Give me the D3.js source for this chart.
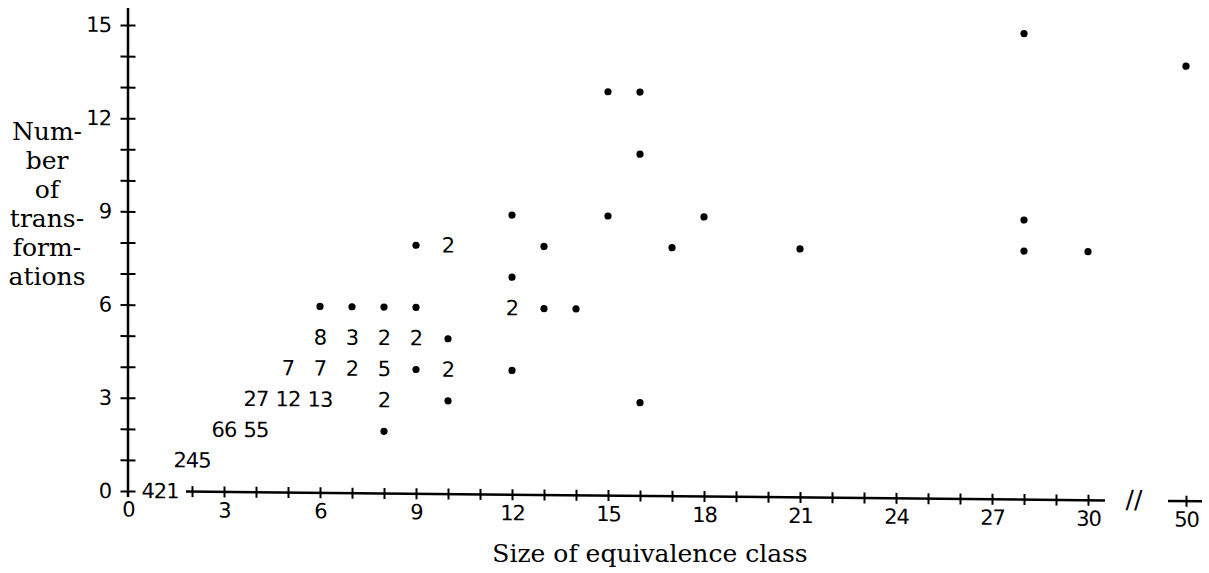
<!DOCTYPE html>
<html>
<head>
<meta charset="utf-8">
<script src="https://cdn.jsdelivr.net/npm/d3@7"></script>
<style>
  body { margin: 0; background: #fff; }
  svg { display: block; }
  .num { font-family: "DejaVu Sans", Verdana, sans-serif; font-size: 21px; fill: #000; letter-spacing: -1px; }
  .ttl { font-family: "DejaVu Serif", "Liberation Serif", serif; font-size: 25px; fill: #000; }
</style>
</head>
<body>
<div id="chart"></div>
<script>
// CONSTANTS
const width = 1209;
const height = 573;
const skewDeg = 0.55; // the scanned x axis drops slightly towards the right

// data: one entry per (size, transformations) cell, count 1 is drawn as a dot
const classSize = [1, 2, 3, 4, 4, 5, 6, 5, 6, 7, 8, 9, 10, 6, 7, 8, 9, 10,
  6, 7, 8, 9, 8, 8, 10, 9, 10, 12, 12, 12, 12, 13, 13, 14, 15, 15, 16, 16, 16,
  17, 18, 21, 28, 28, 28, 30, 50];
const numTransforms = [0, 1, 2, 2, 3, 3, 3, 4, 4, 4, 4, 4, 4, 5, 5, 5, 5, 5,
  6, 6, 6, 6, 3, 2, 3, 8, 8, 9, 7, 6, 4, 8, 6, 6, 13, 9, 13, 11, 3,
  8, 9, 8, 15, 9, 8, 8, 14];
const counts = [421, 245, 66, 55, 27, 12, 13, 7, 7, 2, 5, 1, 2, 8, 3, 2, 2, 1,
  1, 1, 1, 1, 2, 1, 1, 1, 2, 1, 1, 2, 1, 1, 1, 1, 1, 1, 1, 1, 1,
  1, 1, 1, 1, 1, 1, 1, 1];

const xTickLabels = [0, 3, 6, 9, 12, 15, 18, 21, 24, 27, 30, 50];
const xMinorTicks = d3.range(2, 31);
const yTickLabels = [0, 3, 6, 9, 12, 15];
const yMinorTicks = d3.range(0, 16);
const yTitle = ["Num-", "ber", "of", "trans-", "form-", "ations"];
const xTitle = "Size of equivalence class";

const cells = classSize.map((s, i) => ({ x: s, y: numTransforms[i], n: counts[i] }));

// broken x scale: 0..30 linear, then 50 after the break
const x = d3.scaleLinear().domain([0, 30, 50]).range([128, 1088, 1186]);
const y = d3.scaleLinear().domain([0, 15]).range([491, 25]);

const svg = d3.select("#chart").append("svg")
  .attr("width", width)
  .attr("height", height);

const g = svg.append("g")
  .attr("transform", `translate(${x(0)},0) skewY(${skewDeg}) translate(${-x(0)},0)`);

// y axis: cross ticks on every integer, labels every 3
const yMinor = g.append("g")
  .attr("transform", `translate(${x(0)},0)`)
  .call(d3.axisLeft(y).tickValues(yMinorTicks).tickFormat("").tickSizeOuter(0));
yMinor.select(".domain").remove();
yMinor.selectAll(".tick line").attr("x1", 7.5).attr("x2", -7.5)
  .attr("stroke", "#000").attr("stroke-width", 2);

const yLab = g.append("g")
  .attr("transform", `translate(${x(0) - 17},0)`)
  .call(d3.axisLeft(y).tickValues(yTickLabels).tickSize(0).tickPadding(0));
yLab.select(".domain").remove();
yLab.selectAll("text").attr("class", "num").attr("font-size", null).attr("font-family", null);

g.append("line")
  .attr("x1", x(0)).attr("x2", x(0))
  .attr("y1", y(15) - 17).attr("y2", y(0) + 6)
  .attr("stroke", "#000").attr("stroke-width", 2.5);

// x axis: line from 2 to just past 30, then a break and a stub at 50
g.append("line")
  .attr("x1", x(2) - 6).attr("x2", x(30) + 17)
  .attr("y1", y(0)).attr("y2", y(0))
  .attr("stroke", "#000").attr("stroke-width", 2.5);
g.append("line")
  .attr("x1", x(50) - 18).attr("x2", x(50) + 16)
  .attr("y1", y(0)).attr("y2", y(0))
  .attr("stroke", "#000").attr("stroke-width", 2.5);

const xMinor = g.append("g")
  .attr("transform", `translate(0,${y(0)})`)
  .call(d3.axisBottom(x).tickValues(xMinorTicks.concat([50])).tickFormat("").tickSizeOuter(0));
xMinor.select(".domain").remove();
xMinor.selectAll(".tick line").attr("y1", -5.5).attr("y2", 5.5)
  .attr("stroke", "#000").attr("stroke-width", 2);

const xLab = g.append("g")
  .attr("transform", `translate(0,${y(0) + 18})`)
  .call(d3.axisBottom(x).tickValues(xTickLabels).tickSize(0).tickPadding(0));
xLab.select(".domain").remove();
xLab.selectAll("text").attr("class", "num").attr("font-size", null).attr("font-family", null)
  .attr("dy", "0.36em").attr("y", 0);

// axis break mark
g.append("text")
  .attr("class", "num")
  .attr("x", (x(30) + x(50)) / 2 - 3)
  .attr("y", y(0) - 1)
  .attr("text-anchor", "middle")
  .attr("dominant-baseline", "central")
  .style("font-size", "25px")
  .style("letter-spacing", "0px")
  .text("//");

// cells: dots for single classes, counts otherwise
g.selectAll(".dot")
  .data(cells.filter((d) => d.n === 1))
  .enter()
  .append("circle")
  .attr("class", "dot")
  .attr("cx", (d) => x(d.x))
  .attr("cy", (d) => y(d.y))
  .attr("r", 3.6)
  .attr("fill", "#000");

g.selectAll(".count")
  .data(cells.filter((d) => d.n > 1))
  .enter()
  .append("text")
  .attr("class", "num count")
  .attr("x", (d) => x(d.x))
  .attr("y", (d) => y(d.y))
  .attr("text-anchor", "middle")
  .attr("dominant-baseline", "central")
  .text((d) => d.n);

// titles
svg.append("text")
  .attr("class", "ttl")
  .attr("x", 650)
  .attr("y", 562)
  .attr("text-anchor", "middle")
  .text(xTitle);

svg.append("g")
  .selectAll("text")
  .data(yTitle)
  .enter()
  .append("text")
  .attr("class", "ttl")
  .attr("x", 47)
  .attr("y", (d, i) => 140 + i * 29)
  .attr("text-anchor", "middle")
  .text((d) => d);
</script>
</body>
</html>
